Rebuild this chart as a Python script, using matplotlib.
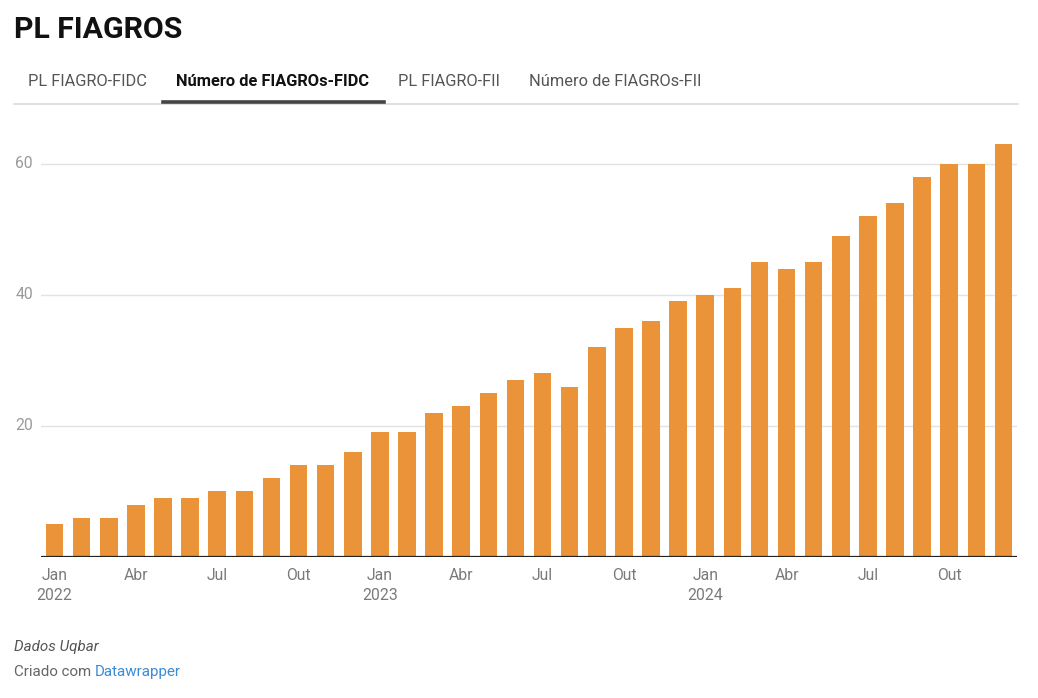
import matplotlib
matplotlib.use("Agg")
import matplotlib.pyplot as plt
from matplotlib.lines import Line2D

plt.rcParams['font.family'] = ['Roboto', 'DejaVu Sans']

months = ["Jan", "Fev", "Mar", "Abr", "Mai", "Jun", "Jul", "Ago", "Set", "Out", "Nov", "Dez"]
years = [2022, 2023, 2024]
values = [5, 6, 6, 8, 9, 9, 10, 10, 12, 14, 14, 16,
          19, 19, 22, 23, 25, 27, 28, 26, 32, 35, 36, 39,
          40, 41, 45, 44, 45, 49, 52, 54, 58, 60, 60, 63]
y_ticks = [20, 40, 60]
tabs = ["PL FIAGRO-FIDC", "Número de FIAGROs-FIDC", "PL FIAGRO-FII", "Número de FIAGROs-FII"]
active_tab = 1

W, H = 1038, 698
fig = plt.figure(figsize=(W / 100, H / 100), dpi=100)
fig.patch.set_facecolor("white")

def fx(px):
    return px / W

def fy(py):
    return 1 - py / H

ax = fig.add_axes([fx(41), fy(557), fx(1017) - fx(41), fy(131) - fy(557)])
x = list(range(len(values)))
ax.bar(x, values, width=0.645, color="#eb9338", zorder=2)
ax.set_xlim(-0.5, len(values) - 0.5)
ax.set_ylim(0, 65)
for s in ax.spines.values():
    s.set_visible(False)
ax.axhline(0, color="#222222", lw=1.6, zorder=3)
for t in y_ticks:
    ax.axhline(t, color="#e3e3e3", lw=1, zorder=1)
ax.set_yticks([])
ax.set_xticks([])

# y labels
for t in y_ticks:
    yf = ax.transData.transform((0, t))[1] / H
    fig.text(fx(33), yf, str(t), ha="right", va="center", fontsize=11.3,
             color="#9a9a9a")

# x labels
labels_idx = list(range(0, len(values), 3))
for i in labels_idx:
    m = months[i % 12]
    xf = ax.transData.transform((i, 0))[0] / W
    fig.text(xf, fy(575), m, ha="center", va="center", fontsize=11.3, color="#7a7a7a")
    if i % 12 == 0:
        fig.text(xf, fy(596), str(years[i // 12]), ha="center", va="center",
                 fontsize=11.3, color="#7a7a7a")

# title
fig.text(fx(14), fy(30), "PL FIAGROS", ha="left", va="center", fontsize=21.8,
         fontweight="bold", color="#111111")

# tabs
tab_x = [28, 176, 398, 529]
for i, (label, tx) in enumerate(zip(tabs, tab_x)):
    fig.text(fx(tx), fy(81), label, ha="left", va="center", fontsize=11.8,
             fontweight="bold" if i == active_tab else "normal",
             color="#111111" if i == active_tab else "#555555")
fig.add_artist(Line2D([fx(14), fx(1018)], [fy(103.5), fy(103.5)], color="#dddddd", lw=1.3))
fig.add_artist(Line2D([fx(163), fx(384)], [fy(101.5), fy(101.5)], color="#444444", lw=2.6))

# footer
fig.text(fx(14), fy(647), "Dados Uqbar", ha="left", va="center", fontsize=10.9,
         style="italic", color="#555555")
t1 = fig.text(fx(14), fy(672), "Criado com ", ha="left", va="center", fontsize=10.9,
              color="#666666")
fig.canvas.draw()
bb = t1.get_window_extent()
fig.text(bb.x1 / W, fy(672), "Datawrapper", ha="left", va="center", fontsize=10.9,
         color="#3b8bd5")

fig.savefig("out.png", dpi=100, facecolor="white")
